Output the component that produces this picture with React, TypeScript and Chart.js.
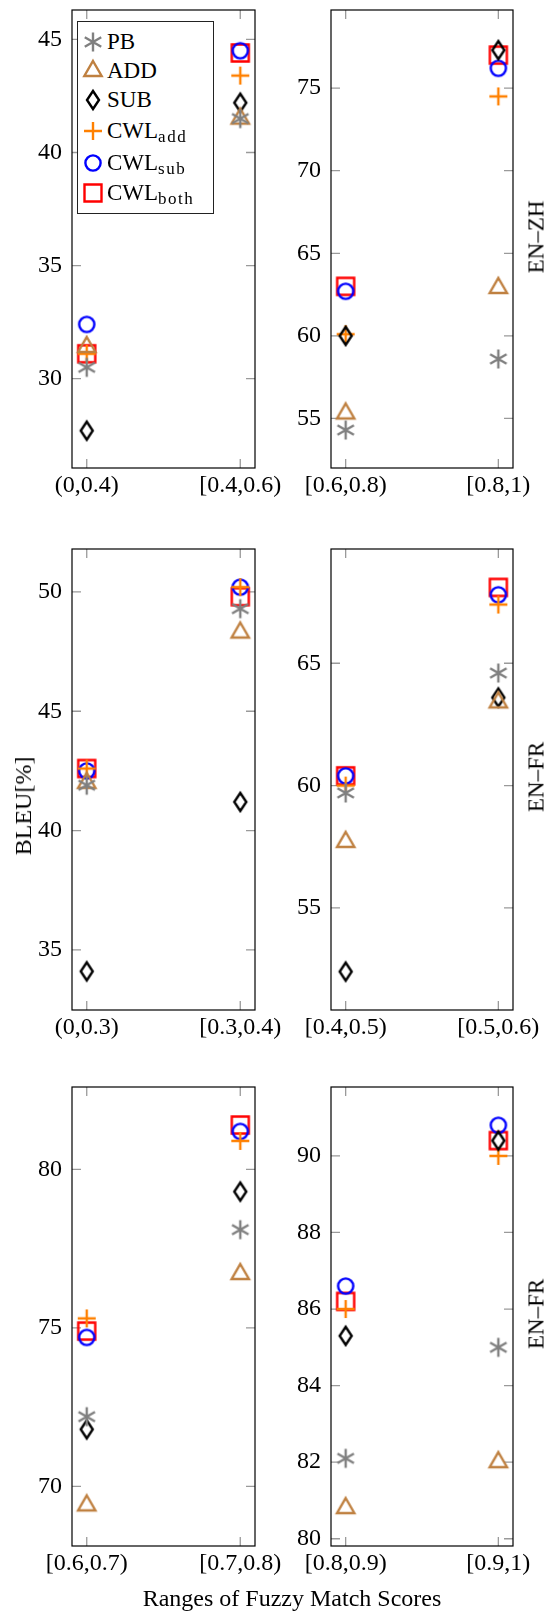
import React, { useEffect, useRef } from 'react';
import { Chart, registerables } from 'chart.js';

Chart.register(...registerables);

// ---------------- data ----------------
const seriesNames = ['PB', 'ADD', 'SUB', 'CWL_add', 'CWL_sub', 'CWL_both'];

// EN–ZH, lower fuzzy-match ranges
const zhLowCategories = ['(0,0.4)', '[0.4,0.6)'];
const zhLowPB = [30.5, 41.5];
const zhLowADD = [31.4, 41.5];
const zhLowSUB = [27.7, 42.2];
const zhLowCWLadd = [31.1, 43.4];
const zhLowCWLsub = [32.4, 44.5];
const zhLowCWLboth = [31.1, 44.4];
const zhLowTicks = [30, 35, 40, 45];

// EN–ZH, higher fuzzy-match ranges
const zhHighCategories = ['[0.6,0.8)', '[0.8,1)'];
const zhHighPB = [54.3, 58.6];
const zhHighADD = [55.3, 62.9];
const zhHighSUB = [60.0, 77.3];
const zhHighCWLadd = [60.1, 74.5];
const zhHighCWLsub = [62.7, 76.2];
const zhHighCWLboth = [63.0, 77.0];
const zhHighTicks = [55, 60, 65, 70, 75];

// EN–FR (middle row), lower ranges
const frALowCategories = ['(0,0.3)', '[0.3,0.4)'];
const frALowPB = [41.9, 49.3];
const frALowADD = [42.0, 48.3];
const frALowSUB = [34.1, 41.2];
const frALowCWLadd = [42.6, 50.2];
const frALowCWLsub = [42.5, 50.2];
const frALowCWLboth = [42.6, 49.8];
const frALowTicks = [35, 40, 45, 50];

// EN–FR (middle row), higher ranges
const frAHighCategories = ['[0.4,0.5)', '[0.5,0.6)'];
const frAHighPB = [59.7, 64.6];
const frAHighADD = [57.7, 63.4];
const frAHighSUB = [52.4, 63.6];
const frAHighCWLadd = [60.0, 67.4];
const frAHighCWLsub = [60.4, 67.8];
const frAHighCWLboth = [60.4, 68.1];
const frAHighTicks = [55, 60, 65];

// EN–FR (bottom row), lower ranges
const frBLowCategories = ['[0.6,0.7)', '[0.7,0.8)'];
const frBLowPB = [72.2, 78.1];
const frBLowADD = [69.4, 76.7];
const frBLowSUB = [71.8, 79.3];
const frBLowCWLadd = [75.3, 80.9];
const frBLowCWLsub = [74.7, 81.2];
const frBLowCWLboth = [74.9, 81.4];
const frBLowTicks = [70, 75, 80];

// EN–FR (bottom row), higher ranges
const frBHighCategories = ['[0.8,0.9)', '[0.9,1)'];
const frBHighPB = [82.1, 85.0];
const frBHighADD = [80.8, 82.0];
const frBHighSUB = [85.3, 90.4];
const frBHighCWLadd = [86.0, 90.0];
const frBHighCWLsub = [86.6, 90.8];
const frBHighCWLboth = [86.2, 90.4];
const frBHighTicks = [80, 82, 84, 86, 88, 90];

// ---------------- styles ----------------
const FONT = "'Liberation Serif', 'Times New Roman', serif";
const markerKinds = ['asterisk', 'triangle', 'diamond', 'plus', 'circle', 'square'];
const markerColors = ['#808080', '#BF8040', '#000000', '#FF8000', '#0000FF', '#FF0000'];

function makeMarker(kind: string, color: string): HTMLCanvasElement {
  const size = 28;
  const c = document.createElement('canvas');
  c.width = size;
  c.height = size;
  const g = c.getContext('2d') as CanvasRenderingContext2D;
  g.translate(size / 2, size / 2);
  g.strokeStyle = color;
  g.lineWidth = 2.4;
  g.lineJoin = 'miter';
  g.beginPath();
  if (kind === 'asterisk') {
    const r = 9.5;
    for (const a of [90, 30, 150]) {
      const rad = (a * Math.PI) / 180;
      g.moveTo(-r * Math.cos(rad), -r * Math.sin(rad));
      g.lineTo(r * Math.cos(rad), r * Math.sin(rad));
    }
  } else if (kind === 'triangle') {
    const r = 10;
    g.moveTo(0, -r);
    g.lineTo(r * 0.866, r * 0.5);
    g.lineTo(-r * 0.866, r * 0.5);
    g.closePath();
  } else if (kind === 'diamond') {
    g.moveTo(0, -9);
    g.lineTo(6, 0);
    g.lineTo(0, 9);
    g.lineTo(-6, 0);
    g.closePath();
  } else if (kind === 'plus') {
    g.moveTo(-9, 0);
    g.lineTo(9, 0);
    g.moveTo(0, -9);
    g.lineTo(0, 9);
  } else if (kind === 'circle') {
    g.arc(0, 0, 7.6, 0, Math.PI * 2);
  } else {
    g.rect(-8.5, -8.5, 17, 17);
  }
  g.stroke();
  return c;
}

const framePlugin = {
  id: 'pgfFrame',
  beforeDatasetsDraw(chart: any) {
    const { ctx, chartArea: a, scales } = chart;
    const x = scales.x;
    const y = scales.y;
    const len = 9;
    ctx.save();
    ctx.strokeStyle = '#9a9a9a';
    ctx.lineWidth = 1.3;
    ctx.beginPath();
    x.ticks.forEach((t: any) => {
      const px = x.getPixelForValue(t.value);
      ctx.moveTo(px, a.top);
      ctx.lineTo(px, a.top + len);
      ctx.moveTo(px, a.bottom);
      ctx.lineTo(px, a.bottom - len);
    });
    y.ticks.forEach((t: any) => {
      const py = y.getPixelForValue(t.value);
      ctx.moveTo(a.left, py);
      ctx.lineTo(a.left + len, py);
      ctx.moveTo(a.right, py);
      ctx.lineTo(a.right - len, py);
    });
    ctx.stroke();
    ctx.strokeStyle = '#000';
    ctx.lineWidth = 1.2;
    ctx.strokeRect(a.left, a.top, a.right - a.left, a.bottom - a.top);
    ctx.restore();
  },
};

type PanelCfg = {
  cats: string[];
  series: number[][];
  yMin: number;
  yMax: number;
  yTicks: number[];
  left: number;
  top: number;
  width: number;
  height: number;
  axisW: number;
  padR: number;
};

const rowTop = [6, 545, 1083];
const rowBottom = [468, 1010, 1546];

function layout(col: number, row: number) {
  const T = rowTop[row];
  const B = rowBottom[row];
  return col === 0
    ? { left: 0, top: T - 6, width: 288, height: B - T + 46, axisW: 72, padR: 33 }
    : { left: 288, top: T - 6, width: 259, height: B - T + 46, axisW: 43, padR: 34 };
}

const panels: PanelCfg[] = [
  {
    cats: zhLowCategories,
    series: [zhLowPB, zhLowADD, zhLowSUB, zhLowCWLadd, zhLowCWLsub, zhLowCWLboth],
    yMin: 26.05, yMax: 46.3, yTicks: zhLowTicks, ...layout(0, 0),
  },
  {
    cats: zhHighCategories,
    series: [zhHighPB, zhHighADD, zhHighSUB, zhHighCWLadd, zhHighCWLsub, zhHighCWLboth],
    yMin: 52.0, yMax: 79.73, yTicks: zhHighTicks, ...layout(1, 0),
  },
  {
    cats: frALowCategories,
    series: [frALowPB, frALowADD, frALowSUB, frALowCWLadd, frALowCWLsub, frALowCWLboth],
    yMin: 32.48, yMax: 51.8, yTicks: frALowTicks, ...layout(0, 1),
  },
  {
    cats: frAHighCategories,
    series: [frAHighPB, frAHighADD, frAHighSUB, frAHighCWLadd, frAHighCWLsub, frAHighCWLboth],
    yMin: 50.83, yMax: 69.67, yTicks: frAHighTicks, ...layout(1, 1),
  },
  {
    cats: frBLowCategories,
    series: [frBLowPB, frBLowADD, frBLowSUB, frBLowCWLadd, frBLowCWLsub, frBLowCWLboth],
    yMin: 68.12, yMax: 82.6, yTicks: frBLowTicks, ...layout(0, 2),
  },
  {
    cats: frBHighCategories,
    series: [frBHighPB, frBHighADD, frBHighSUB, frBHighCWLadd, frBHighCWLsub, frBHighCWLboth],
    yMin: 79.81, yMax: 91.8, yTicks: frBHighTicks, ...layout(1, 2),
  },
];

function Panel({ cfg }: { cfg: PanelCfg }) {
  const ref = useRef<HTMLCanvasElement>(null);
  useEffect(() => {
    const markers = markerKinds.map((k, i) => makeMarker(k, markerColors[i]));
    const tickFont = { family: FONT, size: 24 };
    const chart = new Chart(ref.current as HTMLCanvasElement, {
      type: 'scatter',
      data: {
        datasets: cfg.series.map((vals, i) => ({
          label: seriesNames[i],
          data: vals.map((v, j) => ({ x: j, y: v })),
          pointStyle: markers[i] as any,
          pointRadius: 9,
          pointHoverRadius: 9,
          showLine: false,
        })),
      },
      options: {
        animation: false,
        responsive: false,
        events: [],
        layout: { padding: { left: 0, right: cfg.padR, top: 6, bottom: 0 } },
        plugins: { legend: { display: false }, tooltip: { enabled: false } },
        scales: {
          x: {
            type: 'linear',
            min: -0.096,
            max: 1.096,
            afterBuildTicks: (s: any) => {
              s.ticks = cfg.cats.map((_, i) => ({ value: i }));
            },
            afterFit: (s: any) => {
              s.height = 40;
              s.paddingLeft = 0;
              s.paddingRight = 0;
              s.paddingTop = 0;
              s.paddingBottom = 0;
            },
            ticks: {
              callback: (v: any) => cfg.cats[v] ?? '',
              font: tickFont,
              color: '#000',
              padding: 3,
              maxRotation: 0,
              autoSkip: false,
            },
            grid: { display: false, drawTicks: false },
            border: { display: false },
          },
          y: {
            type: 'linear',
            min: cfg.yMin,
            max: cfg.yMax,
            afterBuildTicks: (s: any) => {
              s.ticks = cfg.yTicks.map((v) => ({ value: v }));
            },
            afterFit: (s: any) => {
              s.width = cfg.axisW;
              s.paddingLeft = 0;
              s.paddingRight = 0;
              s.paddingTop = 0;
              s.paddingBottom = 0;
            },
            ticks: {
              callback: (v: any) => String(v),
              font: tickFont,
              color: '#000',
              padding: 10,
            },
            grid: { display: false, drawTicks: false },
            border: { display: false },
          },
        },
      } as any,
      plugins: [framePlugin],
    });
    return () => chart.destroy();
  }, []);
  return (
    <canvas
      ref={ref}
      width={cfg.width}
      height={cfg.height}
      style={{ position: 'absolute', left: cfg.left, top: cfg.top }}
    />
  );
}

function Icon({ kind, color, left, top }: { kind: string; color: string; left: number; top: number }) {
  const ref = useRef<HTMLCanvasElement>(null);
  useEffect(() => {
    const g = (ref.current as HTMLCanvasElement).getContext('2d') as CanvasRenderingContext2D;
    g.clearRect(0, 0, 28, 28);
    g.drawImage(makeMarker(kind, color), 0, 0);
  }, []);
  return <canvas ref={ref} width={28} height={28} style={{ position: 'absolute', left, top }} />;
}

const legendRowCenters = [42, 71, 100, 131, 163, 193];

function Legend() {
  const boxLeft = 77;
  const boxTop = 21;
  return (
    <div
      style={{
        position: 'absolute',
        left: boxLeft,
        top: boxTop,
        width: 137,
        height: 193,
        border: '1px solid #222',
        background: '#fff',
        boxSizing: 'border-box',
      }}
    >
      {seriesNames.map((name, i) => {
        const cy = legendRowCenters[i] - boxTop - 1;
        const [main, sub] = name.split('_');
        return (
          <React.Fragment key={name}>
            <Icon kind={markerKinds[i]} color={markerColors[i]} left={16 - 14 - 1} top={cy - 14} />
            <div
              style={{
                position: 'absolute',
                left: 29,
                top: cy - 15,
                height: 30,
                lineHeight: '30px',
                fontFamily: FONT,
                fontSize: 23,
                color: '#000',
                whiteSpace: 'nowrap',
              }}
            >
              {main}
              {sub ? (
                <span style={{ fontSize: 17, letterSpacing: 1.5, position: 'relative', top: 4 }}>{sub}</span>
              ) : null}
            </div>
          </React.Fragment>
        );
      })}
    </div>
  );
}

function VText({ text, cx, cy, size }: { text: string; cx: number; cy: number; size: number }) {
  return (
    <div
      style={{
        position: 'absolute',
        left: cx,
        top: cy,
        transform: 'translate(-50%, -50%) rotate(-90deg)',
        fontFamily: FONT,
        fontSize: size,
        lineHeight: 1,
        whiteSpace: 'nowrap',
        color: '#000',
      }}
    >
      {text}
    </div>
  );
}

export default function App() {
  return (
    <div style={{ position: 'absolute', left: 0, top: 0, width: 547, height: 1611, background: '#fff' }}>
      {panels.map((p, i) => (
        <Panel key={i} cfg={p} />
      ))}
      <Legend />
      <VText text="EN–ZH" cx={536} cy={237} size={23} />
      <VText text="EN–FR" cx={536} cy={777} size={23} />
      <VText text="EN–FR" cx={536} cy={1314} size={23} />
      <VText text="BLEU[%]" cx={23} cy={806} size={24} />
      <div
        style={{
          position: 'absolute',
          left: 292,
          top: 1586,
          transform: 'translateX(-50%)',
          fontFamily: FONT,
          fontSize: 24,
          lineHeight: 1,
          whiteSpace: 'nowrap',
          color: '#000',
        }}
      >
        Ranges of Fuzzy Match Scores
      </div>
    </div>
  );
}
